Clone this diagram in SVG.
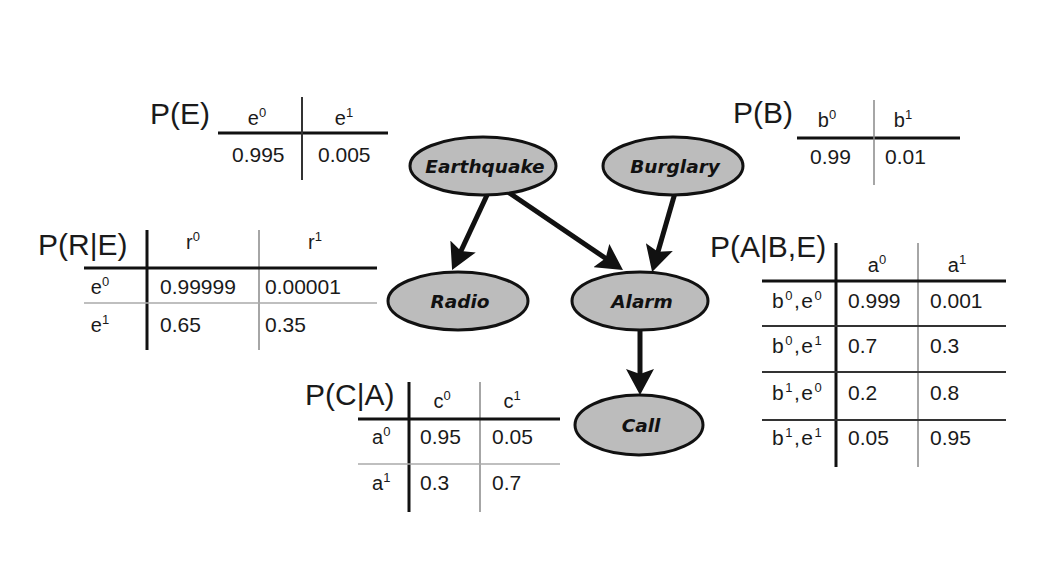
<svg xmlns="http://www.w3.org/2000/svg" width="1044" height="587" viewBox="0 0 1044 587">
<style>
.lbl{font-family:"Liberation Sans",Arial,sans-serif;font-size:30px;fill:#1a1a1a}
.hd{font-family:"Liberation Sans",Arial,sans-serif;font-size:20px;fill:#1a1a1a}
.rl{letter-spacing:1.5px;font-size:21px}
.v{font-family:"Liberation Sans",Arial,sans-serif;font-size:21px;fill:#1a1a1a}
.sp{font-size:13px}
.thick{stroke:#111;stroke-width:3;fill:none}
.mid{stroke:#333;stroke-width:2;fill:none}
.thin{stroke:#888;stroke-width:1.5;fill:none}
.gray{stroke:#aaa;stroke-width:1.5;fill:none}
.node ellipse{fill:#bcbcbc;stroke:#111;stroke-width:3}
.node text{font-family:"DejaVu Sans",Verdana,sans-serif;font-style:italic;font-weight:bold;font-size:18.5px;fill:#111;text-anchor:middle}
.edge{stroke:#111;stroke-width:5;fill:none;marker-end:url(#ah)}
</style>
<defs>
<marker id="ah" markerUnits="userSpaceOnUse" viewBox="0 0 26 28" markerWidth="26" markerHeight="28" refX="16" refY="14" orient="auto">
<path d="M0,0 L26,14 L0,28 L5,14 z" fill="#111"/>
</marker>
</defs>
<rect width="1044" height="587" fill="#fff"/>

<g id="connectors">
<line class="edge" x1="488" y1="193" x2="456.3" y2="261"/>
<line class="edge" x1="508" y1="192" x2="614.7" y2="264.5"/>
<line class="edge" x1="675" y1="193" x2="654.9" y2="262.4"/>
<line class="edge" x1="640" y1="329" x2="640" y2="385"/>
</g>

<g id="node-earthquake" class="node"><ellipse cx="483" cy="166" rx="73" ry="29"/><text x="485" y="173">Earthquake</text></g>
<g id="node-burglary" class="node"><ellipse cx="673" cy="166" rx="70" ry="29"/><text x="675" y="173">Burglary</text></g>
<g id="node-radio" class="node"><ellipse cx="458" cy="301" rx="70" ry="29"/><text x="460" y="308">Radio</text></g>
<g id="node-alarm" class="node"><ellipse cx="640" cy="301" rx="68" ry="29"/><text x="642" y="308">Alarm</text></g>
<g id="node-call" class="node"><ellipse cx="639" cy="425" rx="64" ry="30"/><text x="641" y="432">Call</text></g>

<g id="table-PE">
<text class="lbl" x="150" y="124">P(E)</text>
<line class="thick" x1="218" y1="133" x2="388" y2="133"/>
<line class="mid" x1="302" y1="97" x2="302" y2="180"/>
<text class="hd" x="257" y="125" text-anchor="middle">e<tspan class="sp" dy="-8">0</tspan></text>
<text class="hd" x="344" y="125" text-anchor="middle">e<tspan class="sp" dy="-8">1</tspan></text>
<text class="v" x="232" y="162">0.995</text>
<text class="v" x="318" y="162">0.005</text>
</g>

<g id="table-PB">
<text class="lbl" x="733" y="123">P(B)</text>
<line class="thick" x1="797" y1="138" x2="960" y2="138"/>
<line class="thin" x1="874" y1="100" x2="874" y2="185"/>
<text class="hd" x="827" y="127" text-anchor="middle">b<tspan class="sp" dy="-8">0</tspan></text>
<text class="hd" x="903" y="127" text-anchor="middle">b<tspan class="sp" dy="-8">1</tspan></text>
<text class="v" x="810" y="164">0.99</text>
<text class="v" x="885" y="164">0.01</text>
</g>

<g id="table-PRE">
<text class="lbl" x="38" y="255">P(R|E)</text>
<line class="thick" x1="147" y1="230" x2="147" y2="350"/>
<line class="thin" x1="259" y1="230" x2="259" y2="350"/>
<line class="thick" x1="84" y1="268" x2="377" y2="268"/>
<line class="gray" x1="84" y1="303" x2="377" y2="303"/>
<text class="hd" x="193" y="249" text-anchor="middle">r<tspan class="sp" dy="-8">0</tspan></text>
<text class="hd" x="315" y="249" text-anchor="middle">r<tspan class="sp" dy="-8">1</tspan></text>
<text class="hd" x="100" y="294" text-anchor="middle">e<tspan class="sp" dy="-8">0</tspan></text>
<text class="hd" x="100" y="332" text-anchor="middle">e<tspan class="sp" dy="-8">1</tspan></text>
<text class="v" x="160" y="294">0.99999</text>
<text class="v" x="265" y="294">0.00001</text>
<text class="v" x="160" y="332">0.65</text>
<text class="v" x="265" y="332">0.35</text>
</g>

<g id="table-PABE">
<text class="lbl" x="710" y="257">P(A|B,E)</text>
<line class="thick" x1="836" y1="243" x2="836" y2="467"/>
<line class="thin" x1="918" y1="243" x2="918" y2="467"/>
<line class="thick" x1="762" y1="281" x2="1006" y2="281"/>
<line class="mid" x1="762" y1="326" x2="1006" y2="326"/>
<line class="mid" x1="762" y1="372" x2="1006" y2="372"/>
<line class="mid" x1="762" y1="420" x2="1006" y2="420"/>
<text class="hd" x="877" y="272" text-anchor="middle">a<tspan class="sp" dy="-8">0</tspan></text>
<text class="hd" x="957" y="272" text-anchor="middle">a<tspan class="sp" dy="-8">1</tspan></text>
<text class="hd rl" x="772" y="308">b<tspan class="sp" dy="-8">0</tspan><tspan dy="8">,e</tspan><tspan class="sp" dy="-8">0</tspan></text>
<text class="hd rl" x="772" y="353">b<tspan class="sp" dy="-8">0</tspan><tspan dy="8">,e</tspan><tspan class="sp" dy="-8">1</tspan></text>
<text class="hd rl" x="772" y="400">b<tspan class="sp" dy="-8">1</tspan><tspan dy="8">,e</tspan><tspan class="sp" dy="-8">0</tspan></text>
<text class="hd rl" x="772" y="445">b<tspan class="sp" dy="-8">1</tspan><tspan dy="8">,e</tspan><tspan class="sp" dy="-8">1</tspan></text>
<text class="v" x="848" y="308">0.999</text>
<text class="v" x="930" y="308">0.001</text>
<text class="v" x="848" y="353">0.7</text>
<text class="v" x="930" y="353">0.3</text>
<text class="v" x="848" y="400">0.2</text>
<text class="v" x="930" y="400">0.8</text>
<text class="v" x="848" y="445">0.05</text>
<text class="v" x="930" y="445">0.95</text>
</g>

<g id="table-PCA">
<text class="lbl" x="305" y="405">P(C|A)</text>
<line class="thick" x1="409" y1="382" x2="409" y2="512"/>
<line class="thin" x1="480" y1="382" x2="480" y2="512"/>
<line class="thick" x1="358" y1="419" x2="560" y2="419"/>
<line class="gray" x1="358" y1="464" x2="560" y2="464"/>
<text class="hd" x="442" y="408" text-anchor="middle">c<tspan class="sp" dy="-8">0</tspan></text>
<text class="hd" x="512" y="408" text-anchor="middle">c<tspan class="sp" dy="-8">1</tspan></text>
<text class="hd" x="372" y="444">a<tspan class="sp" dy="-8">0</tspan></text>
<text class="hd" x="372" y="490">a<tspan class="sp" dy="-8">1</tspan></text>
<text class="v" x="420" y="444">0.95</text>
<text class="v" x="492" y="444">0.05</text>
<text class="v" x="420" y="490">0.3</text>
<text class="v" x="492" y="490">0.7</text>
</g>
</svg>
